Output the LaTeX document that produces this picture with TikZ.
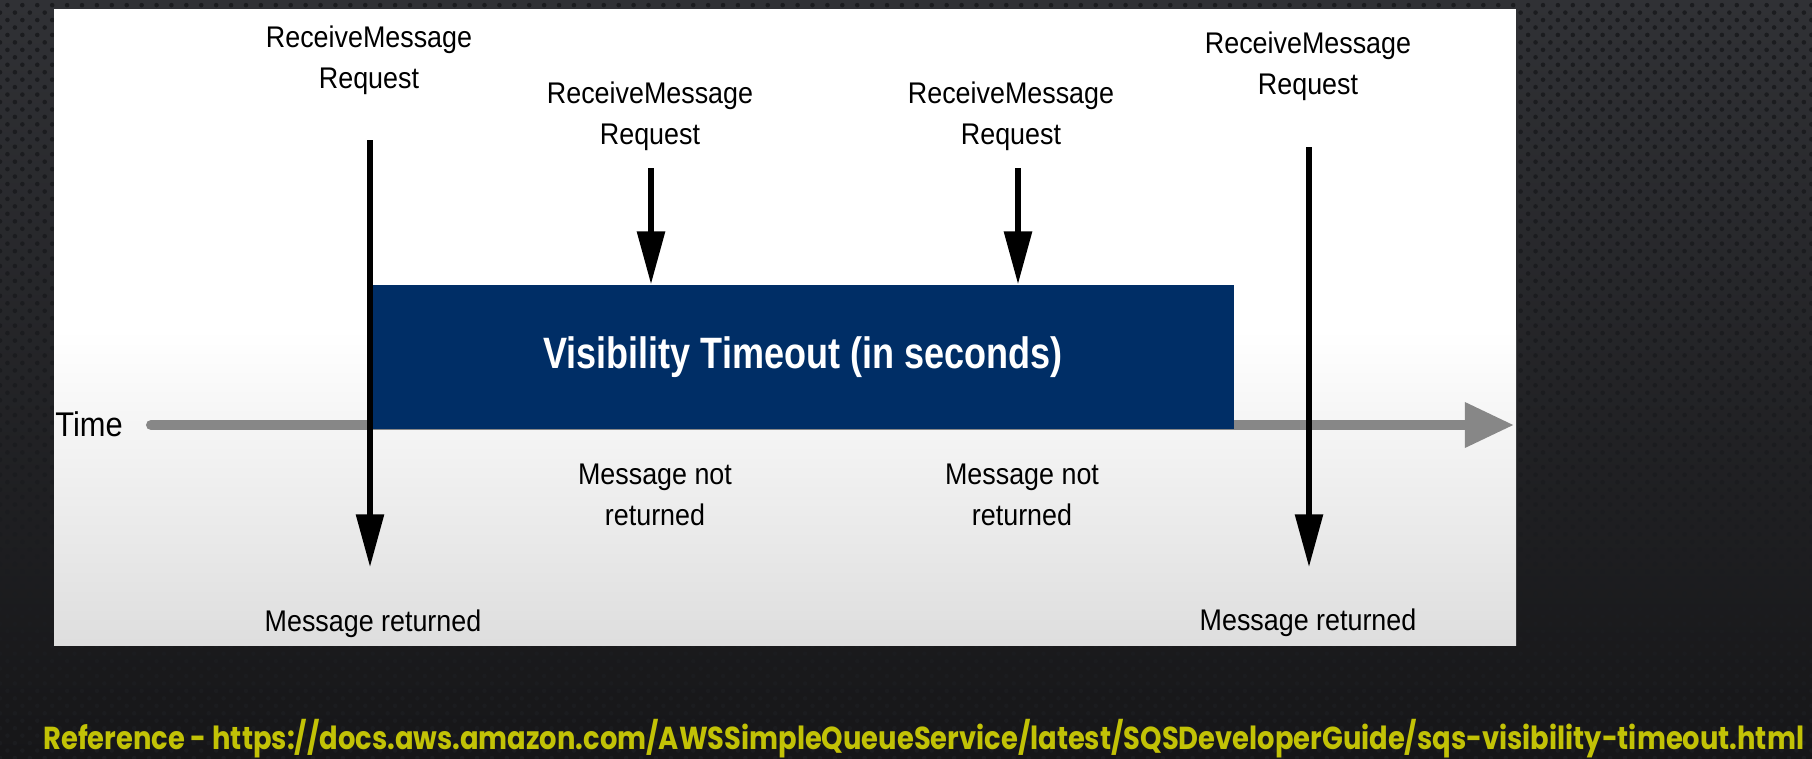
\documentclass[tikz,border=0pt]{standalone}
\usepackage{fontspec}
\setmainfont{Liberation Sans}[FakeStretch=0.9]
\newfontfamily\titlefont{Liberation Sans}[FakeStretch=0.82]
\newfontfamily\reffont{Poppins}[FakeStretch=0.86]
\usepackage{tikz}
\usetikzlibrary{arrows.meta, positioning, patterns.meta}

\definecolor{bgtop}{RGB}{48,49,53}
\definecolor{bgbottom}{RGB}{22,22,24}
\definecolor{dotcol}{RGB}{27,28,31}
\definecolor{vtblue}{RGB}{0,46,102}
\definecolor{axisgray}{RGB}{135,135,135}
\definecolor{refyellow}{RGB}{194,194,6}

\begin{document}
\begin{tikzpicture}[x=0.02cm, y=-0.02cm,
    lbl/.style={align=center, inner sep=0pt, font=\fontsize{17}{23.3}\selectfont},
    vtbox/.style={fill=vtblue, minimum width=17.24cm, minimum height=2.9cm,
                  inner sep=0pt, text=white, font=\titlefont\bfseries\fontsize{25}{30}\selectfont},
    arrow/.style={-{Triangle[length=30pt,width=15.5pt]}, line width=2.9pt},
    timeline/.style={-{Triangle[length=28pt,width=24.5pt]}, line width=5.7pt,
                     axisgray, line cap=round}
]
\useasboundingbox (0,0) rectangle (1812,758);

% dark backdrop and the white slide
\shade[top color=bgtop, bottom color=bgbottom] (0,0) rectangle (1812,758);
\fill[pattern={Dots[distance=6pt, radius=1.3pt, angle=45]}, pattern color=dotcol]
    (0,0) rectangle (1812,758);
\fill[white] (54,9) rectangle (1516,645);
\shade[top color=white, bottom color=gray!26] (54,330) rectangle (1516,645);

% time axis
\node[lbl, anchor=west, font=\fontsize{19.5}{24}\selectfont] (time) at (55,424) {Time};
\coordinate (t0) at (151,425);
\coordinate (t1) at (1514,425);
\draw[timeline] (t0) -- (t1);

\node[vtbox] (vt) at (803,357) {Visibility Timeout (in seconds)};

% requests
\node[lbl] (req1) at (369,60) {ReceiveMessage\\Request};
\node[lbl] (req2) at (650,116) {ReceiveMessage\\Request};
\node[lbl] (req3) at (1011,116) {ReceiveMessage\\Request};
\node[lbl] (req4) at (1308,66) {ReceiveMessage\\Request};

\node[lbl] (ret1) at (373,624) {Message returned};
\node[lbl] (ret4) at (1308,623) {Message returned};
\node[lbl] (not2) at (655,495) {Message not\\returned};
\node[lbl] (not3) at (1022,495) {Message not\\returned};

\coordinate (a1) at (370,140);
\coordinate (b1) at (370,567);
\coordinate (a2) at (651,168);
\coordinate (a3) at (1018,168);
\coordinate (a4) at (1309,147);
\coordinate (b4) at (1309,567);

\draw[arrow] (a1) -- (b1);
\draw[arrow] (a2) -- (a2 |- vt.north);
\draw[arrow] (a3) -- (a3 |- vt.north);
\draw[arrow] (a4) -- (b4);

\node[anchor=base west, inner sep=0pt, text=refyellow,
      font=\reffont\bfseries\fontsize{18.1}{21}\selectfont] (ref) at (43,749)
    {Reference - https://docs.aws.amazon.com/AWSSimpleQueueService/latest/SQSDeveloperGuide/sqs-visibility-timeout.html};
\end{tikzpicture}
\end{document}
